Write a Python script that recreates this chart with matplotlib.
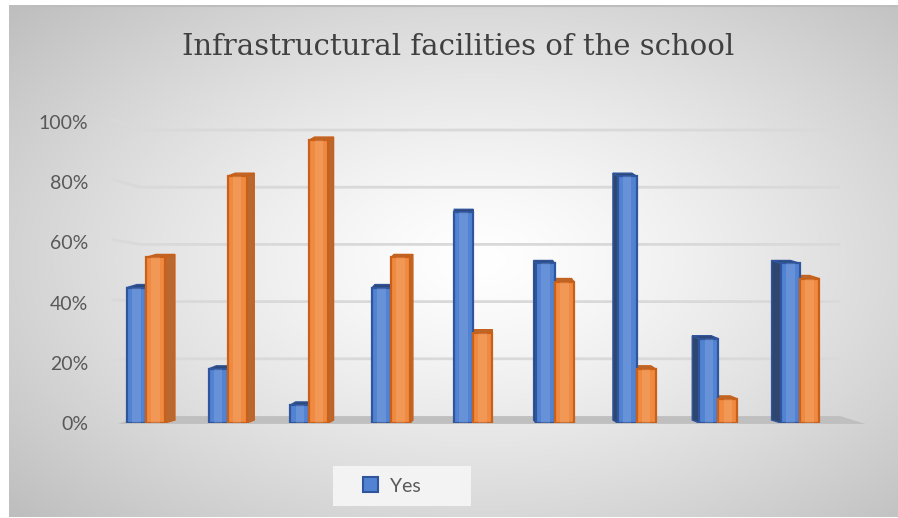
import numpy as np
import matplotlib
matplotlib.use("Agg")
import matplotlib.pyplot as plt
from matplotlib.patches import Polygon, Rectangle, Patch
from matplotlib.ticker import PercentFormatter

# ---- data ----
title = "Infrastructural facilities of the school"
categories = ["F1", "F2", "F3", "F4", "F5", "F6", "F7", "F8", "F9"]
yes_vals = [0.45, 0.18, 0.06, 0.45, 0.70, 0.53, 0.82, 0.28, 0.53]
no_vals = [0.55, 0.82, 0.94, 0.55, 0.30, 0.47, 0.18, 0.08, 0.48]
y_ticks = [0.0, 0.2, 0.4, 0.6, 0.8, 1.0]
legend_labels = ["Yes"]

W, H = 898, 518
fig = plt.figure(figsize=(W / 100, H / 100), dpi=100)
fig.patch.set_facecolor("white")

# ---- background radial gradient ----
bg = fig.add_axes([9 / W, 1 / H, 889 / W, 512 / H])
gx, gy = np.meshgrid(np.arange(889), np.arange(512))
r = np.sqrt(((gx + 9 - 480) / 500.0) ** 2 + ((gy + 5 - 260) / 300.0) ** 2)
c = 255 - 48 * np.minimum(r, 1.45) ** 1.3
img = np.dstack([c, c, c]) / 255.0
bg.imshow(np.clip(img, 0, 1), aspect="auto", extent=[0, 1, 0, 1], origin="upper")
bg.set_axis_off()
bg.add_line(plt.Line2D([0, 1], [0.998, 0.998], color="#bdbdbd", lw=1.5, transform=bg.transAxes))

# ---- main axes ----
ax = fig.add_axes([105 / W, (H - 423) / H, 736 / W, 301 / H])
ax.set_facecolor("none")
ax.patch.set_alpha(0)
for s in ax.spines.values():
    s.set_visible(False)
n = len(categories)
x = np.arange(n)
ax.set_xlim(-0.5, n - 0.5)
ax.set_ylim(0, 1.0)
ax.set_xticks([])
ax.set_yticks(y_ticks)
ax.yaxis.set_major_formatter(PercentFormatter(1.0, decimals=0))
ax.tick_params(axis="y", length=0, pad=12, labelsize=14, labelcolor="#595959")
for lab in ax.get_yticklabels():
    lab.set_fontfamily("Lato")

# floor
floor = Polygon([(-0.34, -0.003), (8.80, -0.003), (8.49, 0.023), (-0.07, 0.023)],
                closed=True, facecolor="#bfbfbf", edgecolor="none", zorder=1, clip_on=False)
ax.add_patch(floor)

# back-wall gridlines
for v in y_ticks[1:]:
    yb = 0.0233 + 0.950 * v
    ax.plot([-0.42, -0.07, 8.49], [v + 0.01, yb, yb], color="#d9d9d9", lw=2,
            zorder=0.5, clip_on=False, solid_capstyle="butt")

bw = 0.232
blue_face, blue_edge, blue_side = "#5283d3", "#2f559c", "#2e4670"
or_face, or_edge, or_side = "#f08a40", "#c8601a", "#b9682f"
vp = 4.1
k = 0.03
dy = 3 / 301.0

def sides(xl, h, dx, side_col, edge_col):
    xr = xl + bw
    if dx >= 0:
        pts = [(xr, 0), (xr + dx, dy), (xr + dx, h + dy), (xr, h)]
    else:
        pts = [(xl, 0), (xl + dx, dy), (xl + dx, h + dy), (xl, h)]
    ax.add_patch(Polygon(pts, closed=True, facecolor=side_col, edgecolor=edge_col,
                         lw=1, zorder=2))
    top = [(xl, h), (xl + dx, h + dy), (xr + dx, h + dy), (xr, h)]
    ax.add_patch(Polygon(top, closed=True, facecolor=side_col, edgecolor=edge_col,
                         lw=1, zorder=2))

for i in range(n):
    dx = k * (vp - i)
    sides(i - bw, yes_vals[i], dx, blue_side, blue_edge)
    sides(i, no_vals[i], dx, or_side, or_edge)

ax.bar(x - bw / 2, yes_vals, width=bw, color=blue_face, edgecolor=blue_edge,
       linewidth=1.6, zorder=3)
ax.bar(x + bw / 2, no_vals, width=bw, color=or_face, edgecolor=or_edge,
       linewidth=1.6, zorder=3)
# subtle highlight stripes
ax.bar(x - bw / 2, yes_vals, width=bw * 0.45, color="white", alpha=0.12,
       linewidth=0, zorder=3.5)
ax.bar(x + bw / 2, no_vals, width=bw * 0.45, color="white", alpha=0.12,
       linewidth=0, zorder=3.5)

# ---- title ----
fig.text(458 / W, 1 - 47 / H, title, ha="center", va="center",
         fontsize=21, family="DejaVu Serif", color="#404040")

# ---- legend ----
fig.patches.append(Rectangle((333 / W, 1 - 506 / H), 138 / W, 40 / H,
                             transform=fig.transFigure, facecolor="#f3f3f3",
                             edgecolor="none", zorder=0.5))
handles = [Patch(facecolor=blue_face, edgecolor=blue_edge, linewidth=1.5)]
leg = fig.legend(handles, legend_labels, loc="center left",
                 bbox_to_anchor=(345 / W, 1 - 486 / H), frameon=False,
                 handlelength=0.8, handleheight=0.8, handletextpad=0.6,
                 prop={"family": "Lato", "size": 14})
for t in leg.get_texts():
    t.set_color("#595959")

fig.savefig("out.png", dpi=100)
